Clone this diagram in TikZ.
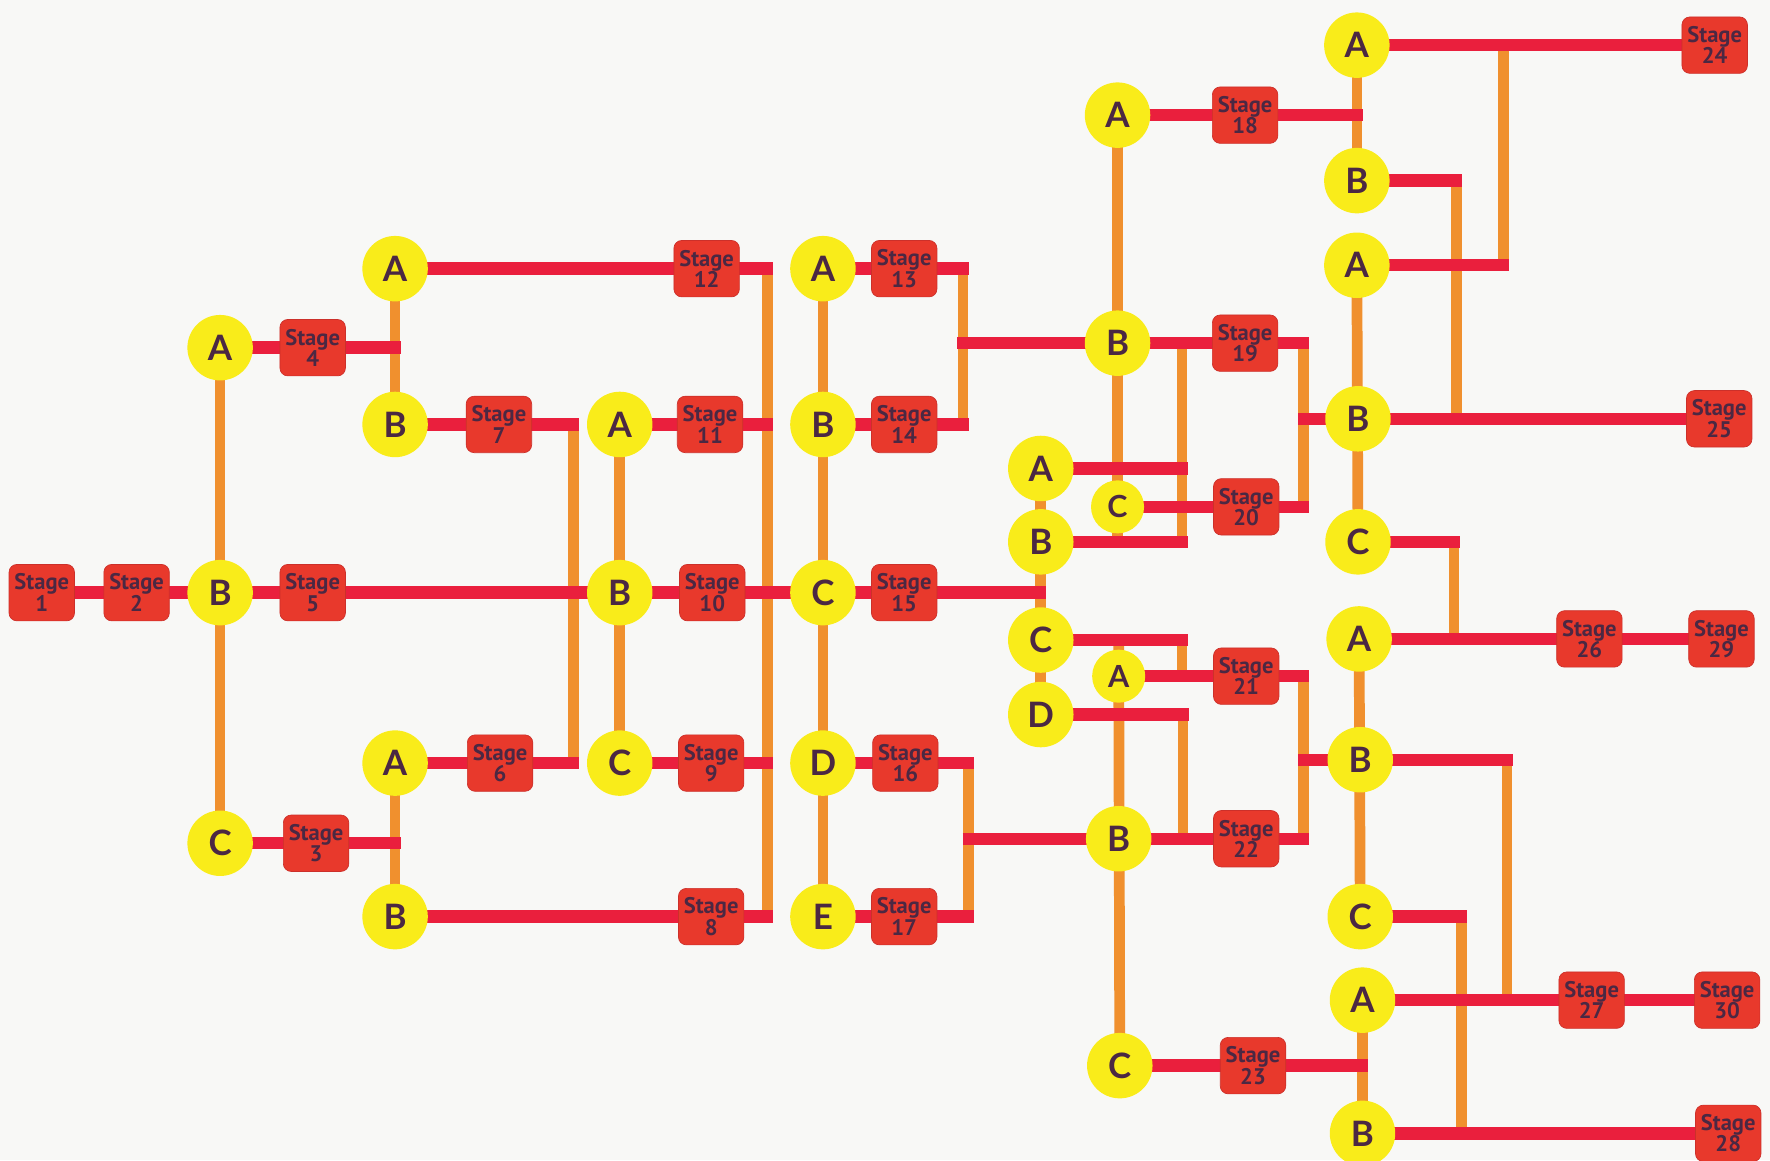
\documentclass[tikz,border=0pt]{standalone}
\usepackage{fontspec}
\setmainfont{Lato}
\newfontfamily\stagefont{PT Sans}

\definecolor{paper}{HTML}{F8F8F6}
\definecolor{yel}{HTML}{F9EC1A}
\definecolor{stagered}{HTML}{E8392C}
\definecolor{stageedge}{HTML}{CC302A}
\definecolor{linered}{HTML}{EA1F3D}
\definecolor{lineorange}{HTML}{F0902E}
\definecolor{ink}{HTML}{4B2843}

\pgfdeclarelayer{bg}
\pgfdeclarelayer{vlines}
\pgfdeclarelayer{hlines}
\pgfsetlayers{bg,vlines,hlines,main}

\tikzset{
  letter/.style={circle, fill=yel, minimum size=58pt, inner sep=0pt,
    text=ink, font=\fontsize{31}{31}\selectfont\bfseries},
  smallletter/.style={letter, minimum size=47pt,
    font=\fontsize{27}{27}\selectfont\bfseries},
  stagebox/.style={rectangle, rounded corners=7pt, fill=stagered,
    draw=stageedge, line width=0.6pt, minimum width=58pt, minimum height=50pt,
    inner sep=0pt, align=center, text=ink,
    font=\stagefont\fontsize{20}{19}\selectfont\bfseries},
  hline/.style={draw=linered, line width=11pt},
  vline/.style={draw=lineorange, line width=9.5pt},
}

\begin{document}
\begin{tikzpicture}[x=1pt,y=-1pt]
\useasboundingbox (0,0) rectangle (1568,1028);
\begin{pgfonlayer}{bg}
  \fill[paper] (0,0) rectangle (1568,1028);
\end{pgfonlayer}

% ---- choice points ----
\node[letter] (b1) at (195,525) {B};
\node[letter] (a1) at (195,308) {A};
\node[letter] (c1) at (195,747) {C};
\node[letter] (a2) at (350,238) {A};
\node[letter] (b2) at (350,376) {B};
\node[letter] (a3) at (350,676) {A};
\node[letter] (b3) at (350,812) {B};
\node[letter] (a4) at (549,376) {A};
\node[letter] (b4) at (549,525) {B};
\node[letter] (c4) at (549,676) {C};
\node[letter] (a5) at (729,238) {A};
\node[letter] (b5) at (729,376) {B};
\node[letter] (c5) at (729,525) {C};
\node[letter] (d5) at (729,676) {D};
\node[letter] (e5) at (729,812) {E};
\node[letter] (a6) at (922,415) {A};
\node[letter] (b6) at (922,480) {B};
\node[letter] (c6) at (922,567) {C};
\node[letter] (d6) at (922,633) {D};
\node[letter] (a7) at (990,102) {A};
\node[letter] (b7) at (990,304) {B};
\node[smallletter] (c7) at (990,449) {C};
\node[smallletter] (a8) at (991,599) {A};
\node[letter] (b8) at (991,743) {B};
\node[letter] (c8) at (992,944) {C};
\node[letter] (a9) at (1202,40) {A};
\node[letter] (b9) at (1202,160) {B};
\node[letter] (a10) at (1202,235) {A};
\node[letter] (b10) at (1203,371) {B};
\node[letter] (c10) at (1203,480) {C};
\node[letter] (a11) at (1204,566) {A};
\node[letter] (b11) at (1205,673) {B};
\node[letter] (c11) at (1205,812) {C};
\node[letter] (a12) at (1207,886) {A};
\node[letter] (b12) at (1207,1004) {B};

% ---- stages ----
\node[stagebox] (s1) at (37,525) {Stage\\1};
\node[stagebox] (s2) at (121,525) {Stage\\2};
\node[stagebox] (s3) at (280,747) {Stage\\3};
\node[stagebox] (s4) at (277,308) {Stage\\4};
\node[stagebox] (s5) at (277,525) {Stage\\5};
\node[stagebox] (s6) at (443,676) {Stage\\6};
\node[stagebox] (s7) at (442,376) {Stage\\7};
\node[stagebox] (s8) at (630,812) {Stage\\8};
\node[stagebox] (s9) at (630,676) {Stage\\9};
\node[stagebox] (s10) at (631,525) {Stage\\10};
\node[stagebox] (s11) at (629,376) {Stage\\11};
\node[stagebox] (s12) at (626,238) {Stage\\12};
\node[stagebox] (s13) at (801,238) {Stage\\13};
\node[stagebox] (s14) at (801,376) {Stage\\14};
\node[stagebox] (s15) at (801,525) {Stage\\15};
\node[stagebox] (s16) at (802,676) {Stage\\16};
\node[stagebox] (s17) at (801,812) {Stage\\17};
\node[stagebox] (s18) at (1103,102) {Stage\\18};
\node[stagebox] (s19) at (1103,304) {Stage\\19};
\node[stagebox] (s20) at (1104,449) {Stage\\20};
\node[stagebox] (s21) at (1104,599) {Stage\\21};
\node[stagebox] (s22) at (1104,743) {Stage\\22};
\node[stagebox] (s23) at (1110,944) {Stage\\23};
\node[stagebox] (s24) at (1519,40) {Stage\\24};
\node[stagebox] (s25) at (1523,371) {Stage\\25};
\node[stagebox] (s26) at (1408,566) {Stage\\26};
\node[stagebox] (s27) at (1410,886) {Stage\\27};
\node[stagebox] (s28) at (1531,1004) {Stage\\28};
\node[stagebox] (s29) at (1525,566) {Stage\\29};
\node[stagebox] (s30) at (1530,886) {Stage\\30};

% ---- junction points of the rails ----
\coordinate (j4) at (355,308);
\coordinate (j3) at (355,747);
\coordinate (j12) at (685,238);
\coordinate (j7) at (513,376);
\coordinate (j6) at (513,676);
\coordinate (j8) at (685,812);
\coordinate (j11) at (685,376);
\coordinate (j9) at (685,676);
\coordinate (j15) at (927,525);
\coordinate (j13) at (858,238);
\coordinate (j14) at (858,376);
\coordinate (m1) at (848,304);
\coordinate (j16) at (863,676);
\coordinate (j17) at (863,812);
\coordinate (m2) at (853,743);
\coordinate (j19) at (1160,304);
\coordinate (j20) at (1160,449);
\coordinate (k10) at (1150,371);
\coordinate (ja6) at (1052,415);
\coordinate (jb6) at (1052,480);
\coordinate (j18) at (1207,102);
\coordinate (jb9) at (1295,160);
\coordinate (ja10) at (1337,235);
\coordinate (jc10) at (1293,480);
\coordinate (jc6) at (1052,567);
\coordinate (j21) at (1160,599);
\coordinate (jd6) at (1053,633);
\coordinate (j22) at (1160,743);
\coordinate (k11) at (1150,673);
\coordinate (jb11) at (1340,673);
\coordinate (jc11) at (1300,812);
\coordinate (j23) at (1212,944);

% ends of the vertical rails
\coordinate (v4a) at (508,376);   \coordinate (v4b) at (508,676);
\coordinate (v6a) at (680,238);   \coordinate (v6b) at (680,812);
\coordinate (v8a) at (853,238);   \coordinate (v8b) at (853,376);
\coordinate (v9a) at (858,676);   \coordinate (v9b) at (858,812);
\coordinate (v11b) at (990,480);
\coordinate (v12a) at (1047,304); \coordinate (v12b) at (1047,480);
\coordinate (v13a) at (1155,304); \coordinate (v13b) at (1155,449);
\coordinate (v14a) at (991,567);
\coordinate (v15a) at (1047,567); \coordinate (v15b) at (1047,599);
\coordinate (v16a) at (1048,633); \coordinate (v16b) at (1048,743);
\coordinate (v17a) at (1155,599); \coordinate (v17b) at (1155,743);
\coordinate (v19a) at (1332,40);  \coordinate (v19b) at (1332,235);
\coordinate (v20a) at (1290,160); \coordinate (v20b) at (1290,371);
\coordinate (v22a) at (1288,480); \coordinate (v22b) at (1288,566);
\coordinate (v24a) at (1335,673); \coordinate (v24b) at (1335,886);
\coordinate (v25a) at (1295,812); \coordinate (v25b) at (1295,1004);

% ---- orange vertical rails ----
\begin{pgfonlayer}{vlines}
  \draw[vline] (a1.center) -- (c1.center);
  \draw[vline] (a2.center) -- (b2.center);
  \draw[vline] (a3.center) -- (b3.center);
  \draw[vline] (v4a) -- (v4b);
  \draw[vline] (a4.center) -- (c4.center);
  \draw[vline] (v6a) -- (v6b);
  \draw[vline] (a5.center) -- (e5.center);
  \draw[vline] (v8a) -- (v8b);
  \draw[vline] (v9a) -- (v9b);
  \draw[vline] (a6.center) -- (d6.center);
  \draw[vline] (a7.center) -- (v11b);
  \draw[vline] (v12a) -- (v12b);
  \draw[vline] (v13a) -- (v13b);
  \draw[vline] (v14a) -- (c8.center);
  \draw[vline] (v15a) -- (v15b);
  \draw[vline] (v16a) -- (v16b);
  \draw[vline] (v17a) -- (v17b);
  \draw[vline] (a9.center) -- (b9.center);
  \draw[vline] (v19a) -- (v19b);
  \draw[vline] (v20a) -- (v20b);
  \draw[vline] (a10.center) -- (c10.center);
  \draw[vline] (v22a) -- (v22b);
  \draw[vline] (a11.center) -- (c11.center);
  \draw[vline] (v24a) -- (v24b);
  \draw[vline] (v25a) -- (v25b);
  \draw[vline] (a12.center) -- (b12.center);
\end{pgfonlayer}

% ---- red horizontal rails ----
\begin{pgfonlayer}{hlines}
  \draw[hline] (s1.center) -- (j15);
  \draw[hline] (a1.center) -- (j4);
  \draw[hline] (c1.center) -- (j3);
  \draw[hline] (a2.center) -- (j12);
  \draw[hline] (b2.center) -- (j7);
  \draw[hline] (a3.center) -- (j6);
  \draw[hline] (b3.center) -- (j8);
  \draw[hline] (a4.center) -- (j11);
  \draw[hline] (c4.center) -- (j9);
  \draw[hline] (a5.center) -- (j13);
  \draw[hline] (b5.center) -- (j14);
  \draw[hline] (m1) -- (j19);
  \draw[hline] (d5.center) -- (j16);
  \draw[hline] (e5.center) -- (j17);
  \draw[hline] (m2) -- (j22);
  \draw[hline] (a6.center) -- (ja6);
  \draw[hline] (b6.center) -- (jb6);
  \draw[hline] (c7.center) -- (j20);
  \draw[hline] (k10) -- (s25.center);
  \draw[hline] (a7.center) -- (j18);
  \draw[hline] (a9.center) -- (s24.center);
  \draw[hline] (b9.center) -- (jb9);
  \draw[hline] (a10.center) -- (ja10);
  \draw[hline] (c10.center) -- (jc10);
  \draw[hline] (a11.center) -- (s29.center);
  \draw[hline] (c6.center) -- (jc6);
  \draw[hline] (a8.center) -- (j21);
  \draw[hline] (d6.center) -- (jd6);
  \draw[hline] (k11) -- (jb11);
  \draw[hline] (c11.center) -- (jc11);
  \draw[hline] (a12.center) -- (s30.center);
  \draw[hline] (c8.center) -- (j23);
  \draw[hline] (b12.center) -- (s28.center);
\end{pgfonlayer}
\end{tikzpicture}
\end{document}
